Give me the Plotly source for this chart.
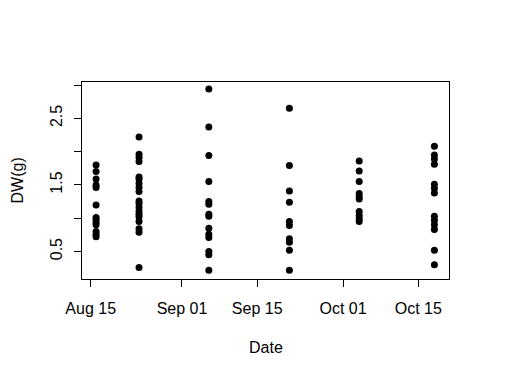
import plotly.graph_objects as go
import pandas as pd

# Sampling dates (one column of points per date)
dates = ["2013-08-16", "2013-08-24", "2013-09-06", "2013-09-21", "2013-10-04", "2013-10-18"]

# Dry weight (g) per sampling date
dw_aug16 = [1.80, 1.70, 1.59, 1.50, 1.46, 1.20, 1.01, 0.98, 0.94, 0.90, 0.80, 0.76, 0.72]
dw_aug24 = [2.22, 1.96, 1.91, 1.85, 1.62, 1.59, 1.52, 1.46, 1.40, 1.26, 1.22, 1.16,
            1.10, 1.06, 1.02, 0.95, 0.84, 0.79, 0.26]
dw_sep06 = [2.94, 2.37, 1.94, 1.55, 1.25, 1.21, 1.06, 1.03, 0.85, 0.76, 0.71, 0.50, 0.45, 0.22]
dw_sep21 = [2.65, 1.79, 1.41, 1.24, 0.95, 0.89, 0.69, 0.64, 0.52, 0.22]
dw_oct04 = [1.86, 1.71, 1.55, 1.37, 1.32, 1.29, 1.10, 1.04, 0.99, 0.95]
dw_oct18 = [2.08, 1.95, 1.89, 1.81, 1.51, 1.45, 1.38, 1.03, 0.97, 0.90, 0.83, 0.52, 0.30]

series = [dw_aug16, dw_aug24, dw_sep06, dw_sep21, dw_oct04, dw_oct18]

x_tick_dates = ["2013-08-15", "2013-09-01", "2013-09-15", "2013-10-01", "2013-10-15"]
x_tick_labels = ["Aug 15", "Sep 01", "Sep 15", "Oct 01", "Oct 15"]
y_tick_vals = [0.5, 1.0, 1.5, 2.0, 2.5, 3.0]
y_tick_labels = ["0.5", "", "1.5", "", "2.5", ""]

xs, ys = [], []
for d, vals in zip(dates, series):
    xs += [d] * len(vals)
    ys += vals

base = pd.Timestamp("2013-08-15")
x_range = [base - pd.Timedelta(days=1.62), base + pd.Timedelta(days=66.72)]

FONT = "Liberation Sans, Arial, sans-serif"

fig = go.Figure(go.Scatter(
    x=xs, y=ys, mode="markers",
    marker=dict(color="black", size=7, line=dict(width=0)),
    showlegend=False,
))

fig.update_layout(
    width=523, height=373,
    margin=dict(l=74, r=82, t=74, b=102),
    paper_bgcolor="white", plot_bgcolor="white",
    font=dict(family=FONT, size=16, color="black"),
    xaxis=dict(
        range=x_range, tickvals=x_tick_dates, ticktext=x_tick_labels,
        showgrid=False, zeroline=False,
        showline=True, linecolor="black", linewidth=1, mirror=True,
        ticks="outside", ticklen=7, tickcolor="black", tickwidth=1,
        ticklabelstandoff=8,
        tickfont=dict(family=FONT, size=16, color="black"),
    ),
    yaxis=dict(
        range=[0.087, 3.045], tickvals=y_tick_vals, ticktext=y_tick_labels,
        showgrid=False, zeroline=False,
        showline=True, linecolor="black", linewidth=1, mirror=True,
        ticks="outside", ticklen=7, tickcolor="black", tickwidth=1,
        tickangle=-90, ticklabelstandoff=6,
        tickfont=dict(family=FONT, size=16, color="black"),
    ),
    annotations=[
        dict(text="Date", xref="paper", yref="paper", x=0.5, y=0,
             yshift=-68, showarrow=False, xanchor="center", yanchor="middle",
             font=dict(family=FONT, size=16, color="black")),
        dict(text="DW(g)", xref="paper", yref="paper", x=0, y=0.5,
             xshift=-65, showarrow=False, textangle=-90,
             xanchor="center", yanchor="middle",
             font=dict(family=FONT, size=16, color="black")),
    ],
)

fig.write_html("out.html")
